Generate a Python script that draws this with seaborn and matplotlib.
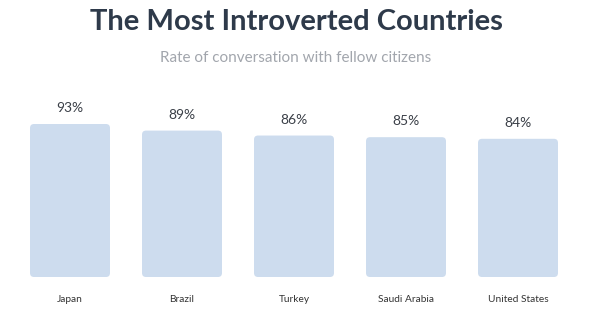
import matplotlib
matplotlib.use("Agg")
import matplotlib.pyplot as plt
import seaborn as sns
import pandas as pd
from matplotlib.patches import FancyBboxPatch

countries = ["Japan", "Brazil", "Turkey", "Saudi Arabia", "United States"]
rates = [93, 89, 86, 85, 84]
value_labels = ["93%", "89%", "86%", "85%", "84%"]
title = "The Most Introverted Countries"
subtitle = "Rate of conversation with fellow citizens"

sns.set_theme(style="white")
plt.rcParams['font.family'] = ['Lato', 'DejaVu Sans']

df = pd.DataFrame({"country": countries, "rate": rates})

fig = plt.figure(figsize=(5.92, 3.27), dpi=100)
ax = fig.add_axes([14/592, 1-277/327, 560/592, 164.5/327])
sns.barplot(data=df, x="country", y="rate", color="#cddcee", width=0.714,
            saturation=1, ax=ax)
ax.set_ylim(0, 100)
ax.set_xlim(-0.5, 4.5)

# pixel-per-unit ratio for rounded corners
px_x = 560 / 5.0
px_y = 164.5 / 100.0
rx = 4.0 / px_x
aspect = px_x / px_y

for p in list(ax.patches):
    x, y = p.get_x(), p.get_y()
    w, h = p.get_width(), p.get_height()
    fb = FancyBboxPatch((x, y), w, h,
                        boxstyle=f"round,pad=0,rounding_size={rx}",
                        mutation_aspect=aspect,
                        facecolor="#cddcee", edgecolor="none")
    p.set_visible(False)
    ax.add_patch(fb)

for i, (v, lab) in enumerate(zip(rates, value_labels)):
    ax.annotate(lab, (i, v), xytext=(0, 7), textcoords="offset points",
                ha="center", va="bottom", fontsize=10, color="#3a3f47")

ax.set_xlabel("")
ax.set_ylabel("")
ax.set_yticks([])
ax.tick_params(axis="x", length=0, pad=13, labelsize=7.3, labelcolor="#333333")
for s in ax.spines.values():
    s.set_visible(False)

fig.text(0.5, 1-22/327, title, ha="center", va="center", fontsize=21,
         fontweight="bold", color="#2e3a4a")
fig.text(0.5, 1-58/327, subtitle, ha="center", va="center", fontsize=11,
         color="#a2a6ad")

fig.savefig("out.png", dpi=100, facecolor="white")
